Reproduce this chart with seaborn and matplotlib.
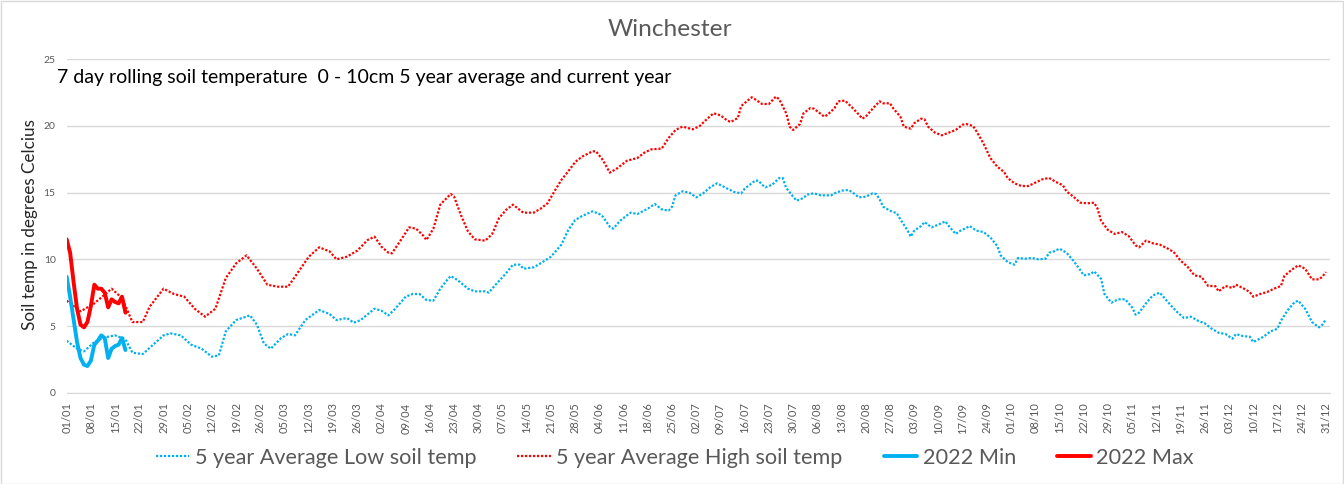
import numpy as np
import pandas as pd
import seaborn as sns
import matplotlib.pyplot as plt
from matplotlib.patches import Rectangle

sns.set_style('white')
plt.rcParams['font.family'] = ['Lato', 'DejaVu Sans']

# 5 year averages, day of year (0 = 01/01) and temperature
high_days = [0, 4, 8, 13, 16, 19, 22, 24, 28, 31, 34, 37, 40, 43, 46, 49, 52, 55, 58, 61,
             64, 66, 70, 73, 76, 78, 81, 84, 87, 89, 91, 93, 94, 97, 99, 101, 103, 104, 106, 108,
             111, 112, 114, 116, 118, 121, 123, 125, 127, 129, 130, 132, 135, 137, 139, 141, 143, 145, 147, 149,
             152, 153, 155, 157, 159, 162, 165, 167, 169, 172, 174, 176, 178, 181, 183, 185, 187, 189, 191, 192,
             194, 195, 198, 199, 201, 203, 205, 206, 208, 209, 210, 212, 213, 215, 216, 218, 219, 220, 222, 223,
             225, 227, 229, 230, 231, 233, 235, 236, 238, 239, 241, 242, 244, 245, 247, 248, 249, 251, 253, 255,
             257, 259, 260, 262, 263, 265, 267, 269, 271, 272, 274, 276, 278, 280, 282, 284, 286, 288, 289, 291,
             293, 295, 297, 298, 299, 301, 303, 305, 307, 309, 310, 312, 314, 316, 318, 320, 322, 324, 326, 328,
             330, 332, 333, 335, 337, 338, 340, 342, 343, 345, 347, 349, 351, 352, 354, 356, 358, 360, 362, 363,
             364]
high_avg = [6.9, 6.1, 6.7, 7.8, 7.1, 5.3, 5.3, 6.45, 7.8, 7.4, 7.2, 6.3, 5.7, 6.3, 8.6, 9.7, 10.3, 9.3, 8.1, 7.95,
            7.95, 8.7, 10.2, 10.9, 10.6, 10.0, 10.2, 10.65, 11.45, 11.7, 10.95, 10.5, 10.45, 11.6, 12.4, 12.3, 11.8, 11.45, 12.3, 14.1,
            14.9, 14.7, 13.3, 12.1, 11.5, 11.4, 11.9, 13.1, 13.7, 14.1, 13.9, 13.5, 13.5, 13.8, 14.2, 15.1, 15.95, 16.6, 17.3, 17.7,
            18.1, 18.1, 17.45, 16.5, 16.8, 17.4, 17.6, 18.0, 18.25, 18.3, 19.1, 19.7, 19.95, 19.75, 20.0, 20.5, 20.95, 20.8, 20.4, 20.3,
            20.6, 21.5, 22.15, 22.0, 21.65, 21.65, 22.2, 22.0, 20.95, 19.95, 19.7, 20.15, 20.95, 21.35, 21.3, 20.9, 20.7, 20.85, 21.35, 21.85,
            21.9, 21.4, 20.85, 20.55, 20.7, 21.3, 21.85, 21.7, 21.7, 21.3, 20.7, 19.95, 19.8, 20.2, 20.55, 20.5, 19.95, 19.5, 19.3, 19.5,
            19.7, 20.1, 20.15, 20.0, 19.6, 18.7, 17.6, 16.95, 16.55, 16.1, 15.7, 15.5, 15.5, 15.75, 16.0, 16.1, 15.8, 15.55, 15.1, 14.7,
            14.25, 14.2, 14.25, 13.8, 12.9, 12.2, 11.9, 12.05, 11.75, 11.05, 10.9, 11.4, 11.2, 11.1, 10.85, 10.55, 9.9, 9.45, 8.8, 8.7,
            8.0, 8.0, 7.6, 8.0, 7.85, 8.1, 7.85, 7.55, 7.2, 7.4, 7.55, 7.8, 8.0, 8.75, 9.2, 9.55, 9.3, 8.5, 8.5, 8.7,
            9.05]

low_days = [0, 3, 5, 8, 11, 14, 17, 19, 22, 25, 28, 30, 33, 36, 39, 42, 44, 46, 49, 53,
            55, 57, 59, 62, 64, 66, 69, 73, 76, 78, 81, 83, 85, 89, 91, 93, 95, 98, 100, 102,
            104, 106, 108, 110, 111, 113, 116, 118, 121, 122, 124, 127, 129, 131, 132, 135, 137, 140, 143, 145,
            147, 149, 152, 154, 155, 157, 158, 160, 163, 165, 168, 170, 172, 174, 175, 176, 178, 180, 182, 184,
            186, 188, 191, 193, 195, 196, 199, 200, 201, 202, 204, 206, 207, 208, 210, 211, 213, 214, 216, 218,
            221, 222, 224, 226, 227, 229, 231, 233, 234, 235, 236, 238, 240, 241, 243, 244, 245, 247, 248, 250,
            252, 254, 255, 257, 258, 260, 261, 263, 265, 267, 269, 270, 272, 274, 275, 277, 279, 281, 283, 284,
            285, 287, 289, 291, 293, 294, 296, 297, 299, 300, 302, 304, 306, 308, 309, 310, 312, 314, 316, 317,
            319, 321, 323, 325, 327, 329, 331, 333, 335, 337, 338, 340, 342, 343, 346, 348, 350, 351, 353, 355,
            356, 358, 360, 362, 363, 364]
low_avg = [3.9, 3.3, 3.1, 3.8, 4.15, 4.3, 4.0, 3.0, 2.9, 3.6, 4.3, 4.45, 4.3, 3.6, 3.3, 2.7, 2.8, 4.6, 5.45, 5.8,
           5.1, 3.7, 3.3, 4.1, 4.4, 4.3, 5.45, 6.2, 5.9, 5.45, 5.6, 5.25, 5.45, 6.3, 6.15, 5.8, 6.3, 7.2, 7.4, 7.4,
           6.95, 6.9, 7.8, 8.45, 8.75, 8.45, 7.8, 7.6, 7.6, 7.5, 8.1, 8.95, 9.6, 9.6, 9.3, 9.4, 9.7, 10.2, 11.1, 12.2,
           12.95, 13.25, 13.6, 13.4, 13.2, 12.45, 12.3, 12.9, 13.5, 13.4, 13.8, 14.15, 13.75, 13.65, 13.95, 14.8, 15.1, 15.0, 14.65, 14.95,
           15.4, 15.7, 15.3, 15.05, 14.95, 15.3, 15.9, 15.9, 15.6, 15.4, 15.6, 16.1, 16.1, 15.35, 14.7, 14.4, 14.6, 14.85, 14.95, 14.8,
           14.8, 14.95, 15.15, 15.2, 15.05, 14.65, 14.7, 14.95, 14.9, 14.5, 13.95, 13.65, 13.45, 13.0, 12.2, 11.7, 12.15, 12.5, 12.8, 12.4,
           12.6, 12.85, 12.5, 11.9, 12.1, 12.35, 12.5, 12.15, 12.05, 11.65, 11.0, 10.3, 9.8, 9.6, 10.1, 10.05, 10.1, 10.0, 10.05, 10.5,
           10.55, 10.8, 10.5, 9.9, 9.2, 8.8, 8.9, 9.1, 8.55, 7.4, 6.75, 7.0, 7.0, 6.4, 5.85, 6.0, 6.7, 7.3, 7.5, 7.2,
           6.6, 6.05, 5.6, 5.7, 5.4, 5.2, 4.8, 4.5, 4.4, 4.05, 4.4, 4.25, 4.2, 3.8, 4.2, 4.6, 4.8, 5.4, 6.2, 6.8,
           6.9, 6.3, 5.3, 4.9, 5.1, 5.5]

# 2022 daily values so far
days_2022 = list(range(18))
min_2022 = [8.7, 7.2, 5.5, 3.8, 2.6, 2.1, 2.0, 2.4, 3.6, 3.9, 4.3, 4.1, 2.6, 3.3, 3.5, 3.6, 4.1, 3.2]
max_2022 = [11.5, 10.5, 8.3, 6.3, 5.1, 4.9, 5.3, 6.5, 8.1, 7.8, 7.8, 7.5, 6.4, 7.0, 6.8, 6.7, 7.2, 6.0]

tick_days = list(range(0, 365, 7))
tick_labels = [(pd.Timestamp('2022-01-01') + pd.Timedelta(days=d)).strftime('%d/%m') for d in tick_days]

blue = '#00B0F0'
red = '#FF0000'
grid = '#D9D9D9'
grey = '#595959'

fig = plt.figure(figsize=(13.44, 4.84), dpi=100)
ax = fig.add_axes([0.0496, 0.1886, 0.9400, 0.6889])

dots = (0, (1, 0.8))
sns.lineplot(x=low_days, y=low_avg, ax=ax, color=blue, lw=1.6, linestyle=dots,
             estimator=None, label='5 year Average Low soil temp')
sns.lineplot(x=high_days, y=high_avg, ax=ax, color=red, lw=1.6, linestyle=dots,
             estimator=None, label='5 year Average High soil temp')
sns.lineplot(x=days_2022, y=min_2022, ax=ax, color=blue, lw=2.8,
             estimator=None, label='2022 Min')
sns.lineplot(x=days_2022, y=max_2022, ax=ax, color=red, lw=2.8,
             estimator=None, label='2022 Max')

ax.set_xlim(0, 365.2)
ax.set_ylim(0, 25)
ax.set_yticks(range(0, 26, 5))
ax.set_xticks(tick_days)
ax.set_xticklabels(tick_labels, rotation=90)
ax.tick_params(axis='x', colors=grid, length=5, width=1, labelcolor=grey, labelsize=8, pad=2)
ax.tick_params(axis='y', length=0, labelcolor=grey, labelsize=7.5, pad=8)
ax.yaxis.grid(True, color=grid, lw=1)
ax.set_axisbelow(True)
for side in ['top', 'right', 'left']:
    ax.spines[side].set_visible(False)
ax.spines['bottom'].set_color(grid)
ax.set_xlabel('')
ax.set_ylabel('')

ax.legend(loc='center', bbox_to_anchor=(0.502, 0.0537), bbox_transform=fig.transFigure,
          ncol=4, frameon=False, fontsize=15.6, handlelength=1.55, handletextpad=0.25,
          columnspacing=1.9, labelcolor=grey)

fig.text(0.4985, 1 - 30 / 484, 'Winchester', ha='center', va='center', fontsize=17.6, color=grey)
fig.text(57 / 1344, 1 - 78 / 484, '7 day rolling soil temperature  0 - 10cm 5 year average and current year',
         ha='left', va='center', fontsize=14, color='black')
fig.text(30 / 1344, 1 - 225 / 484, 'Soil temp in degrees Celcius', rotation=90,
         ha='center', va='center', fontsize=12.3, color='#262626')

fig.patches.append(Rectangle((0.0008, 0.001), 0.9984, 0.997, transform=fig.transFigure,
                             fill=False, edgecolor=grid, lw=1))

plt.savefig('out.png', dpi=100)
